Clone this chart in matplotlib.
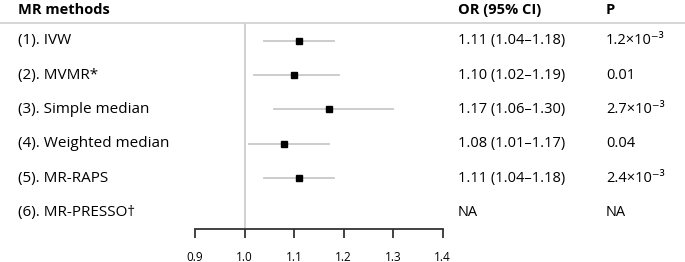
'''forest plot of MR estimates'''
import matplotlib.pyplot as plt
from matplotlib.lines import Line2D
from matplotlib.transforms import blended_transform_factory

plt.rcParams['font.family'] = ['Open Sans', 'DejaVu Sans']

# data
methods = ['(1). IVW', '(2). MVMR*', '(3). Simple median', '(4). Weighted median',
           '(5). MR-RAPS', '(6). MR-PRESSO\u2020']
orv = [1.11, 1.10, 1.17, 1.08, 1.11, None]
lo = [1.04, 1.02, 1.06, 1.01, 1.04, None]
hi = [1.18, 1.19, 1.30, 1.17, 1.18, None]
or_txt = ['1.11 (1.04\u20131.18)', '1.10 (1.02\u20131.19)', '1.17 (1.06\u20131.30)',
          '1.08 (1.01\u20131.17)', '1.11 (1.04\u20131.18)', 'NA']
p_txt = ['1.2\u00d710\u207b\u00b3', '0.01', '2.7\u00d710\u207b\u00b3', '0.04',
         '2.4\u00d710\u207b\u00b3', 'NA']
xticks = [0.9, 1.0, 1.1, 1.2, 1.3, 1.4]

W, H = 685, 262
fs = 10.5
fig = plt.figure(figsize=(W/100, H/100), dpi=100)
ax = fig.add_axes([195/W, 1-229/H, (442.7-195)/W, (229-23)/H])
ax.set_xlim(0.9, 1.4)
ax.set_ylim(5.47, -0.51)

for i in range(len(methods)):
    if orv[i] is None:
        continue
    ax.plot([lo[i], hi[i]], [i, i], color='#c8c8c8', lw=1.3, zorder=2)
    ax.plot(orv[i], i, marker='s', ms=4.3, color='black', zorder=3)

ax.axvline(1.0, color='#c8c8c8', lw=1.2, zorder=1)

for s in ['top', 'left', 'right']:
    ax.spines[s].set_visible(False)
ax.spines['bottom'].set_color('#333333')
ax.spines['bottom'].set_linewidth(1.3)
ax.set_yticks([])
ax.set_xticks(xticks)
ax.set_xticklabels([f'{t:.1f}' for t in xticks], fontsize=8.5)
ax.tick_params(axis='x', direction='out', length=6.5, width=1.3, color='#333333', pad=9)

# table text
tr = blended_transform_factory(fig.transFigure, ax.transData)
for i in range(len(methods)):
    ax.text(18/W, i, methods[i], transform=tr, fontsize=11, va='center', ha='left')
    ax.text(458/W, i, or_txt[i], transform=tr, fontsize=fs, va='center', ha='left')
    ax.text(606/W, i, p_txt[i], transform=tr, fontsize=fs, va='center', ha='left')

for x, lab in [(18, 'MR methods'), (458, 'OR (95% CI)'), (606, 'P')]:
    fig.text(x/W, 1-10/H, lab, fontsize=fs, fontweight='bold', va='center', ha='left')

fig.add_artist(Line2D([0, 1], [1-23/H, 1-23/H], color='#d0d0d0', lw=1.2))

plt.savefig('out.png', dpi=100)
